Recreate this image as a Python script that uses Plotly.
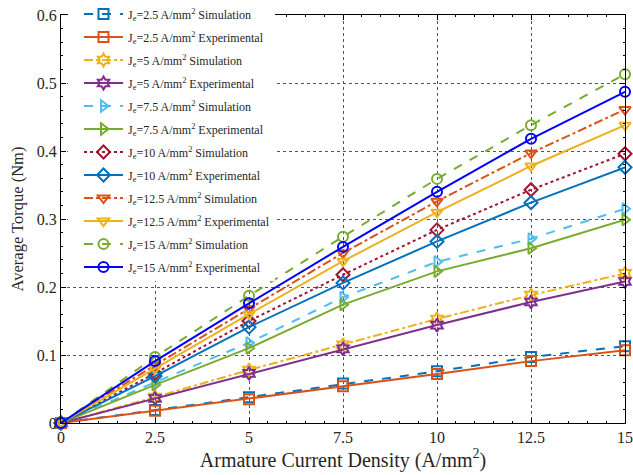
import plotly.graph_objects as go

# Armature current density (A/mm^2)
current_density = [0, 2.5, 5, 7.5, 10, 12.5, 15]

# Average torque (Nm) for each excitation current density
sim_2_5 = [0, 0.019, 0.038, 0.058, 0.076, 0.097, 0.113]
exp_2_5 = [0, 0.018, 0.035, 0.054, 0.072, 0.091, 0.107]
sim_5 = [0, 0.038, 0.078, 0.115, 0.153, 0.188, 0.220]
exp_5 = [0, 0.036, 0.073, 0.109, 0.144, 0.178, 0.208]
sim_7_5 = [0, 0.060, 0.118, 0.185, 0.237, 0.271, 0.315]
exp_7_5 = [0, 0.056, 0.110, 0.174, 0.223, 0.257, 0.299]
sim_10 = [0, 0.073, 0.150, 0.218, 0.284, 0.343, 0.396]
exp_10 = [0, 0.069, 0.141, 0.206, 0.267, 0.324, 0.376]
sim_12_5 = [0, 0.085, 0.168, 0.250, 0.326, 0.397, 0.461]
exp_12_5 = [0, 0.080, 0.160, 0.238, 0.310, 0.378, 0.438]
sim_15 = [0, 0.097, 0.187, 0.274, 0.359, 0.438, 0.513]
exp_15 = [0, 0.091, 0.176, 0.259, 0.340, 0.418, 0.487]

x_tick_vals = [0, 2.5, 5, 7.5, 10, 12.5, 15]
x_tick_text = ["0", "2.5", "5", "7.5", "10", "12.5", "15"]
y_tick_vals = [0, 0.1, 0.2, 0.3, 0.4, 0.5, 0.6]
y_tick_text = ["0", "0.1", "0.2", "0.3", "0.4", "0.5", "0.6"]

series = [
    ("J<sub>e</sub>=2.5 A/mm<sup>2</sup> Simulation", sim_2_5, "#0072BD", "dash", "square-open"),
    ("J<sub>e</sub>=2.5 A/mm<sup>2</sup> Experimental", exp_2_5, "#D95319", "solid", "square-open"),
    ("J<sub>e</sub>=5 A/mm<sup>2</sup> Simulation", sim_5, "#EDB120", "dashdot", "hexagram-open"),
    ("J<sub>e</sub>=5 A/mm<sup>2</sup> Experimental", exp_5, "#7E2F8E", "solid", "hexagram-open"),
    ("J<sub>e</sub>=7.5 A/mm<sup>2</sup> Simulation", sim_7_5, "#4DBEEE", "dash", "triangle-right-open"),
    ("J<sub>e</sub>=7.5 A/mm<sup>2</sup> Experimental", exp_7_5, "#77AC30", "solid", "triangle-right-open"),
    ("J<sub>e</sub>=10 A/mm<sup>2</sup> Simulation", sim_10, "#A2142F", "dot", "diamond-open"),
    ("J<sub>e</sub>=10 A/mm<sup>2</sup> Experimental", exp_10, "#0072BD", "solid", "diamond-open"),
    ("J<sub>e</sub>=12.5 A/mm<sup>2</sup> Simulation", sim_12_5, "#D95319", "dashdot", "triangle-down-open"),
    ("J<sub>e</sub>=12.5 A/mm<sup>2</sup> Experimental", exp_12_5, "#EDB120", "solid", "triangle-down-open"),
    ("J<sub>e</sub>=15 A/mm<sup>2</sup> Simulation", sim_15, "#77AC30", "dash", "circle-open"),
    ("J<sub>e</sub>=15 A/mm<sup>2</sup> Experimental", exp_15, "#0000FF", "solid", "circle-open"),
]

fig = go.Figure()
for i, (name, values, color, dash, symbol) in enumerate(series):
    fig.add_trace(go.Scatter(
        x=current_density, y=values, name=name, mode="lines+markers",
        legendgroup=f"g{i}",
        line=dict(color=color, width=2, dash=dash),
        marker=dict(symbol=symbol, size=10, color=color, line=dict(width=2, color=color)),
        cliponaxis=False,
    ))

font_family = "Liberation Serif"
text_color = "#262626"
axis_common = dict(
    showline=True, linecolor="black", linewidth=1, mirror="ticks",
    ticks="inside", ticklen=5, tickcolor="black",
    showgrid=True, gridcolor="#555555", gridwidth=1, griddash="dot",
    zeroline=False,
    tickfont=dict(family=font_family, size=16, color=text_color),
)

fig.update_xaxes(
    range=[0, 15], tickvals=x_tick_vals, ticktext=x_tick_text,
    title=dict(text="Armature Current Density (A/mm<sup>2</sup>)",
               font=dict(family=font_family, size=20, color=text_color), standoff=2),
    minor=dict(dtick=0.5, ticks="inside", ticklen=2, tickcolor="black", showgrid=False),
    **axis_common,
)
fig.update_yaxes(
    range=[0, 0.6], tickvals=y_tick_vals, ticktext=y_tick_text,
    title=dict(text="Average Torque (Nm)",
               font=dict(family=font_family, size=16.5, color=text_color), standoff=9),
    minor=dict(dtick=0.02, ticks="inside", ticklen=2, tickcolor="black", showgrid=False),
    **axis_common,
)

# white backing that extends the legend box leftwards over the grid
fig.add_shape(
    type="rect", xref="paper", yref="paper", layer="above",
    x0=7 / 564, x1=20 / 564, y0=(423 - 281) / 408, y1=1.01,
    fillcolor="white", line=dict(width=0),
)

fig.update_layout(
    width=633, height=475,
    margin=dict(l=61, r=8, t=15, b=52, autoexpand=False),
    paper_bgcolor="white", plot_bgcolor="white",
    font=dict(family=font_family, color=text_color),
    legend=dict(
        x=18 / 564, y=1.038, xanchor="left", yanchor="top",
        bgcolor="white", borderwidth=0,
        font=dict(family=font_family, size=12, color=text_color),
        itemwidth=39, tracegroupgap=4, maxheight=2000,
    ),
)

fig.write_html("out.html")
